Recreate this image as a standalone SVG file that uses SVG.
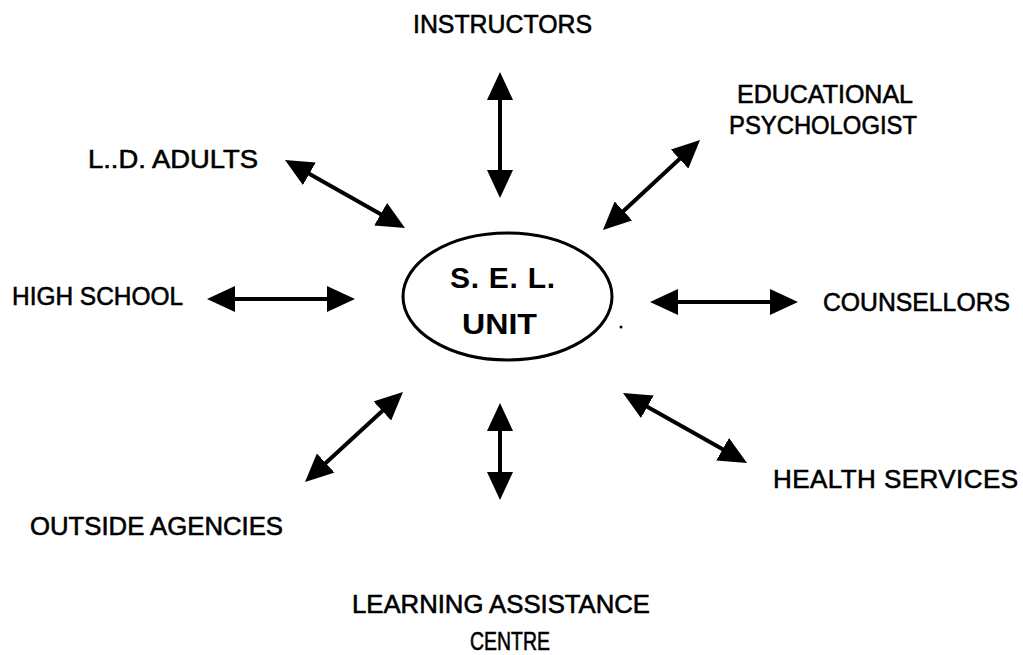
<svg xmlns="http://www.w3.org/2000/svg" width="1023" height="655" viewBox="0 0 1023 655">
  <style>
    .lbl { font-family: "Liberation Sans", Arial, sans-serif; font-size: 26px; fill: #000; stroke: #000; stroke-width: 0.6; }
    .hub { font-family: "Liberation Sans", Arial, sans-serif; font-size: 30px; font-weight: bold; fill: #000; }
    .conn { stroke: #000; stroke-width: 4; fill: none; marker-start: url(#head); marker-end: url(#head); }
  </style>
  <defs>
    <marker id="head" viewBox="0 0 28 26" refX="18" refY="13" markerWidth="28" markerHeight="26" markerUnits="userSpaceOnUse" orient="auto-start-reverse">
      <path d="M0,0 L28,13 L0,26 z" fill="#000"/>
    </marker>
  </defs>
  <rect width="1023" height="655" fill="#fff"/>

  <!-- connectors between the unit and each partner -->
  <g id="connectors">
    <line class="conn" x1="500" y1="82" x2="500" y2="188"/>
    <line class="conn" x1="293.7" y1="164.9" x2="396.3" y2="223.1"/>
    <line class="conn" x1="692.7" y1="146.8" x2="610.3" y2="223.2"/>
    <line class="conn" x1="217" y1="299" x2="345" y2="299"/>
    <line class="conn" x1="660" y1="302" x2="788" y2="302"/>
    <line class="conn" x1="395.6" y1="398.8" x2="312.4" y2="475.2"/>
    <line class="conn" x1="631.7" y1="397.9" x2="738.3" y2="458.1"/>
    <line class="conn" x1="500" y1="413" x2="500" y2="490"/>
  </g>

  <!-- central unit -->
  <g id="sel-unit">
    <ellipse cx="507.5" cy="296.5" rx="104.5" ry="63.5" fill="none" stroke="#000" stroke-width="3"/>
    <text class="hub" x="450" y="288" textLength="105" lengthAdjust="spacing">S. E. L.</text>
    <text class="hub" x="462" y="334" textLength="75" lengthAdjust="spacingAndGlyphs">UNIT</text>
    <circle cx="621" cy="327" r="1.5" fill="#000"/>
  </g>

  <g id="instructors"><text class="lbl" x="413" y="33" textLength="179" lengthAdjust="spacingAndGlyphs">INSTRUCTORS</text></g>
  <g id="educational-psychologist">
    <text class="lbl" x="737" y="103" textLength="176" lengthAdjust="spacingAndGlyphs">EDUCATIONAL</text>
    <text class="lbl" x="729" y="134" textLength="188" lengthAdjust="spacingAndGlyphs">PSYCHOLOGIST</text>
  </g>
  <g id="ld-adults"><text class="lbl" x="88" y="168" textLength="170" lengthAdjust="spacingAndGlyphs">L..D. ADULTS</text></g>
  <g id="high-school"><text class="lbl" x="12" y="305" textLength="171" lengthAdjust="spacingAndGlyphs">HIGH SCHOOL</text></g>
  <g id="counsellors"><text class="lbl" x="823" y="311" textLength="187" lengthAdjust="spacingAndGlyphs">COUNSELLORS</text></g>
  <g id="health-services"><text class="lbl" x="773" y="488" textLength="245" lengthAdjust="spacing">HEALTH  SERVICES</text></g>
  <g id="outside-agencies"><text class="lbl" x="30" y="535" textLength="253" lengthAdjust="spacingAndGlyphs">OUTSIDE AGENCIES</text></g>
  <g id="learning-assistance-centre">
    <text class="lbl" x="352" y="613" textLength="298" lengthAdjust="spacingAndGlyphs">LEARNING ASSISTANCE</text>
    <text class="lbl" x="470" y="650" textLength="80" lengthAdjust="spacingAndGlyphs">CENTRE</text>
  </g>
</svg>
